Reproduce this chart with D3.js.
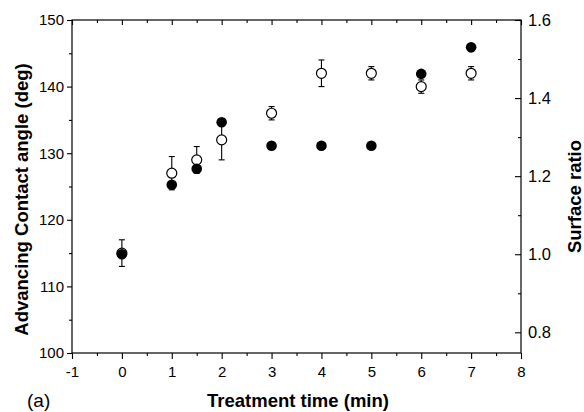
<!DOCTYPE html>
<html>
<head>
<meta charset="utf-8">
<script src="https://cdn.jsdelivr.net/npm/d3@7"></script>
<style>
  body { margin: 0; background: #fff; }
  svg text { font-family: "Liberation Sans", Arial, sans-serif; fill: #000; }
  .tick-label { font-size: 15px; }
  .right-label { font-size: 16.5px; }
  .axis-title { font-size: 18.5px; font-weight: bold; }
</style>
</head>
<body>
<div class="chart"></div>
<script>
// treatment time (min)
const times = [0, 1, 1.5, 2, 3, 4, 5, 6, 7];
// advancing contact angle (deg), open circles, left axis
const angle = [115, 127, 129, 132, 136, 142, 142, 140, 142];
const angleErr = [2, 2.5, 2, 3, 1, 2, 1, 1, 1];
// surface ratio, filled circles, right axis
const ratio = [1.0, 1.178, 1.219, 1.338, 1.278, 1.278, 1.278, 1.462, 1.53];

const xTicks = [-1, 0, 1, 2, 3, 4, 5, 6, 7, 8];
const yLeftTicks = [100, 110, 120, 130, 140, 150];
const yRightTicks = [0.8, 1.0, 1.2, 1.4, 1.6];

const W = 584, H = 412;
const margin = {top: 20, right: 63, bottom: 59, left: 72};
const width = W - margin.left - margin.right,
      height = H - margin.top - margin.bottom;

const x = d3.scaleLinear().domain([-1, 8]).range([0, width]);
const yL = d3.scaleLinear().domain([100, 150]).range([height, 0]);
const yR = d3.scaleLinear().domain([0.747, 1.6]).range([height, 0]);

const svg = d3.select(".chart").append("svg")
    .attr("width", W)
    .attr("height", H)
  .append("g")
    .attr("transform", "translate(" + margin.left + "," + margin.top + ")");

// frame
svg.append("rect")
  .attr("width", width).attr("height", height)
  .attr("fill", "none").attr("stroke", "#000").attr("stroke-width", 1.2);

// bottom axis (plain hyphen for negatives, like the original)
const bottomAxis = svg.append("g").attr("transform", "translate(0," + height + ")");
bottomAxis.call(d3.axisBottom(x).tickValues(xTicks).tickSize(6).tickPadding(7)
  .tickFormat((d) => (d < 0 ? "-" + Math.abs(d) : "" + d)));
bottomAxis.append("g").call(d3.axisBottom(x).tickValues(d3.range(-0.5, 8, 1)).tickSize(3).tickFormat(""));

// top axis, ticks inward
const topAxis = svg.append("g");
topAxis.call(d3.axisBottom(x).tickValues(xTicks).tickSize(5).tickFormat(""));
topAxis.append("g").call(d3.axisBottom(x).tickValues(d3.range(-0.5, 8, 1)).tickSize(3).tickFormat(""));

// left axis
const leftAxis = svg.append("g");
leftAxis.call(d3.axisLeft(yL).tickValues(yLeftTicks).tickSize(5).tickPadding(4));
leftAxis.append("g").call(d3.axisLeft(yL).tickValues(d3.range(105, 150, 10)).tickSize(3).tickFormat(""));

// right axis, ticks pointing into the plot
const rightAxis = svg.append("g").attr("transform", "translate(" + width + ",0)");
rightAxis.call(d3.axisLeft(yR).tickValues(yRightTicks).tickSize(6).tickFormat(""));
rightAxis.append("g").call(d3.axisLeft(yR).tickValues(d3.range(0.9, 1.6, 0.2)).tickSize(3).tickFormat(""));
rightAxis.selectAll(".label")
    .data(yRightTicks)
  .enter().append("text")
    .attr("class", "right-label")
    .attr("x", 7)
    .attr("y", (d) => yR(d))
    .attr("dy", "0.35em")
    .attr("text-anchor", "start")
    .text((d) => d.toFixed(1));

svg.selectAll(".domain").remove();
svg.selectAll(".tick line").attr("stroke", "#000").attr("stroke-width", 1.1);
svg.selectAll(".tick text").attr("class", "tick-label").attr("font-size", null).attr("font-family", null);
leftAxis.selectAll(".tick text").attr("x", -8);

// error bars for contact angle
const err = svg.append("g").attr("stroke", "#000").attr("stroke-width", 1.1);
times.forEach((t, i) => {
  const cx = x(t);
  const y1 = yL(angle[i] + angleErr[i]), y2 = yL(angle[i] - angleErr[i]);
  err.append("line").attr("x1", cx).attr("x2", cx).attr("y1", y1).attr("y2", y2);
  err.append("line").attr("x1", cx - 3).attr("x2", cx + 3).attr("y1", y1).attr("y2", y1);
  err.append("line").attr("x1", cx - 3).attr("x2", cx + 3).attr("y1", y2).attr("y2", y2);
});

// open circles (contact angle)
svg.selectAll(".open")
    .data(times)
  .enter().append("circle")
    .attr("class", "open")
    .attr("r", 5)
    .attr("cx", (d) => x(d))
    .attr("cy", (d, i) => yL(angle[i]))
    .attr("fill", "#fff")
    .attr("stroke", "#000")
    .attr("stroke-width", 1.2);

// filled circles (surface ratio)
svg.selectAll(".filled")
    .data(times)
  .enter().append("circle")
    .attr("class", "filled")
    .attr("r", 5.3)
    .attr("cx", (d) => x(d))
    .attr("cy", (d, i) => yR(ratio[i]))
    .attr("fill", "#000");

// axis titles
svg.append("text")
  .attr("class", "axis-title")
  .attr("x", 226)
  .attr("y", height + 54)
  .style("text-anchor", "middle")
  .text("Treatment time (min)");

svg.append("text")
  .attr("class", "axis-title")
  .attr("transform", "translate(" + (-44) + "," + (height / 2 + 13) + ") rotate(-90)")
  .style("text-anchor", "middle")
  .text("Advancing Contact angle (deg)");

svg.append("text")
  .attr("class", "axis-title")
  .attr("transform", "translate(" + (width + 60) + "," + (height / 2 + 10) + ") rotate(-90)")
  .style("text-anchor", "middle")
  .text("Surface ratio");

svg.append("text")
  .attr("x", -45)
  .attr("y", height + 54)
  .style("font-size", "19px")
  .text("(a)");
</script>
</body>
</html>
